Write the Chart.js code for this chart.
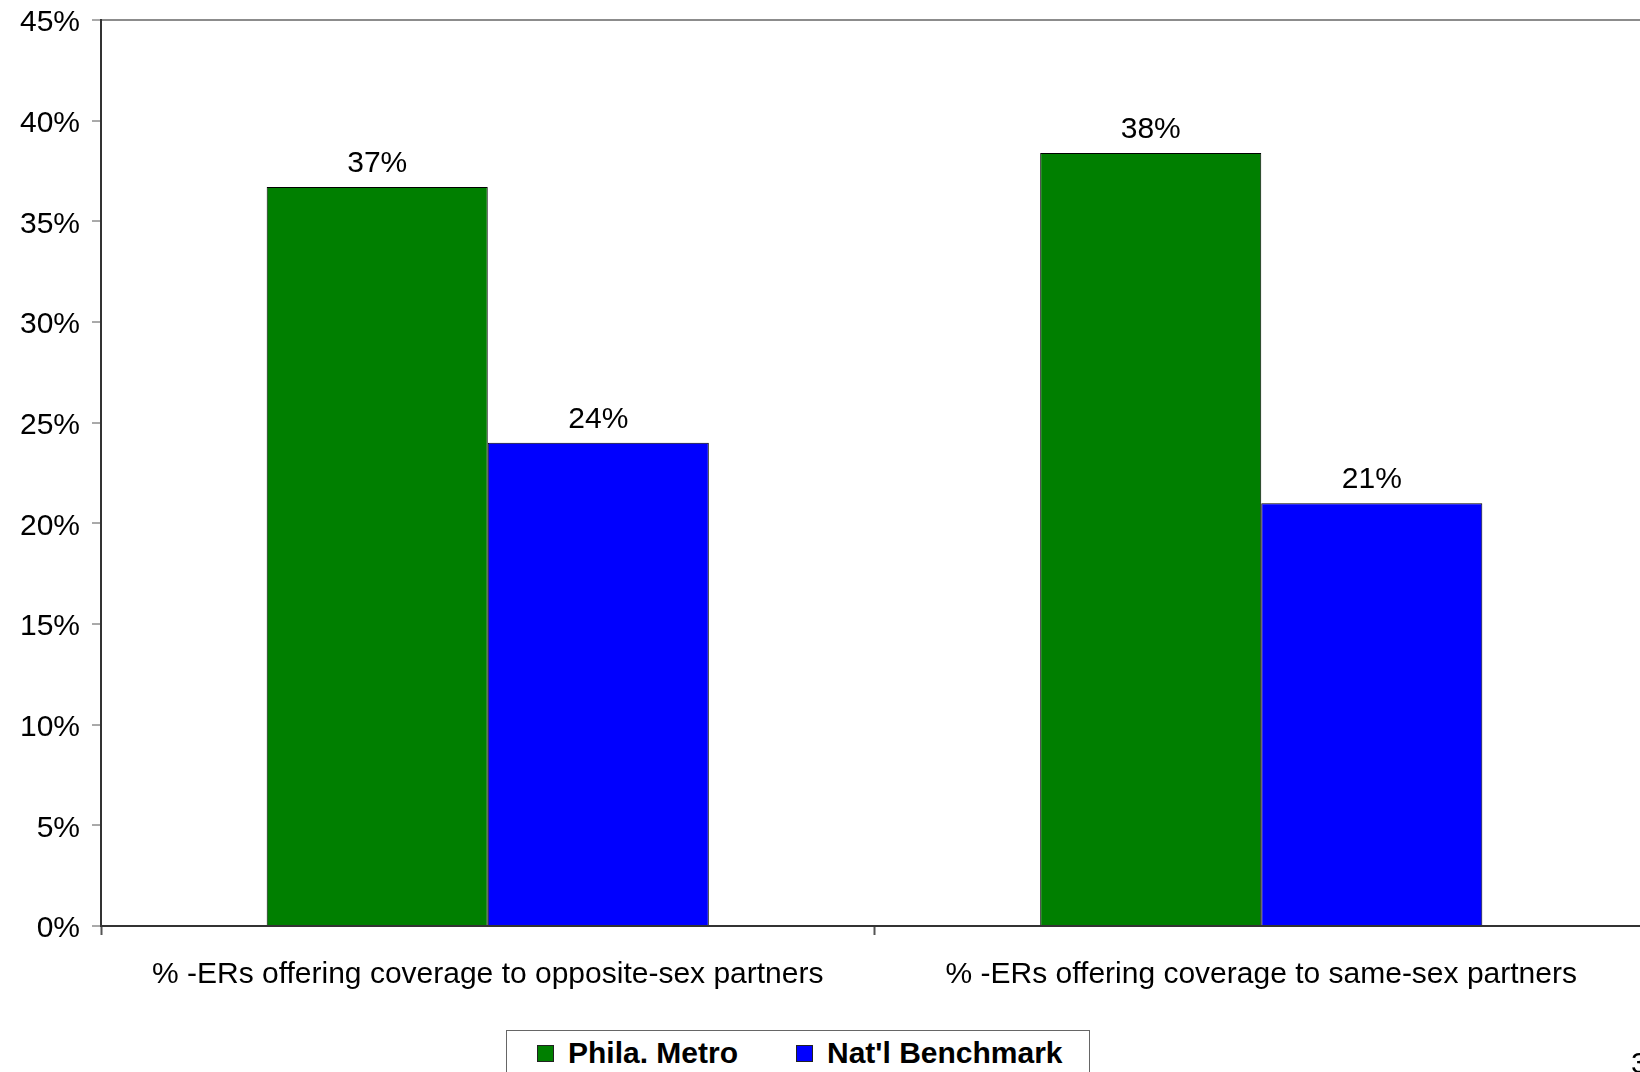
<!DOCTYPE html>
<html>
<head>
<meta charset="utf-8">
<script src="https://cdn.jsdelivr.net/npm/chart.js@4.4.1/dist/chart.umd.min.js"></script>
<style>
  html, body { margin: 0; padding: 0; background: #fff; overflow: hidden; }
  #wrap { position: relative; width: 1650px; height: 1072px; }
  #legend {
    position: absolute; left: 506px; top: 1030px; width: 584px; height: 60px;
    border: 1px solid #666; box-sizing: border-box; background: #fff;
    font-family: "Liberation Sans", Arial, sans-serif; font-weight: bold; font-size: 30px;
  }
  .item { position: absolute; top: 5px; height: 34px; line-height: 34px;
          display: flex; align-items: center; white-space: nowrap; }
  .sw { width: 15px; height: 15px; border: 1px solid #222; margin-right: 14px; }
  #pageno {
    position: absolute; left: 1631px; top: 1046px; line-height: 34px;
    font-family: "Liberation Sans", Arial, sans-serif; font-size: 30px; color: #000;
  }
</style>
</head>
<body>
<div id="wrap">
  <canvas id="c"></canvas>
  <div id="legend"></div>
  <div id="pageno">3</div>
</div>
<script>
// Categories and series values (percent)
const categories = [
  "% -ERs offering coverage to opposite-sex partners",
  "% -ERs offering coverage to same-sex partners"
];
const seriesNames = ["Phila. Metro", "Nat'l Benchmark"];
const philaMetro = [36.7, 38.4];
const natlBenchmark = [24.0, 21.0];
const seriesColors = ["#007f00", "#0000ff"];
const yTicks = [0, 5, 10, 15, 20, 25, 30, 35, 40, 45];

const FONT = '"Liberation Sans", Arial, sans-serif';

// Value labels above each bar
const valueLabels = {
  id: 'valueLabels',
  afterDatasetsDraw(chart) {
    const ctx = chart.ctx;
    ctx.save();
    ctx.font = '30px ' + FONT;
    ctx.fillStyle = '#000';
    ctx.textAlign = 'center';
    ctx.textBaseline = 'alphabetic';
    chart.data.datasets.forEach((ds, i) => {
      chart.getDatasetMeta(i).data.forEach((bar, j) => {
        ctx.fillText(Math.round(ds.data[j]) + '%', bar.x, bar.y - 15);
      });
    });
    ctx.restore();
  }
};

const chart = new Chart(document.getElementById('c'), {
  type: 'bar',
  data: {
    labels: categories,
    datasets: [
      { label: seriesNames[0], data: philaMetro, backgroundColor: seriesColors[0],
        borderColor: '#000', borderWidth: 1, borderSkipped: 'bottom' },
      { label: seriesNames[1], data: natlBenchmark, backgroundColor: seriesColors[1],
        borderColor: '#000', borderWidth: 1, borderSkipped: 'bottom' }
    ]
  },
  options: {
    responsive: true,
    maintainAspectRatio: false,
    animation: false,
    layout: { padding: { top: 20, right: 2, left: 0, bottom: 0 } },
    datasets: { bar: { categoryPercentage: 0.5716, barPercentage: 1.0 } },
    plugins: { legend: { display: false }, tooltip: { enabled: false } },
    scales: {
      x: {
        grid: { display: true, drawOnChartArea: false, offset: true,
                tickLength: 9, tickColor: '#555', tickWidth: 2 },
        border: { color: '#333', width: 2 },
        ticks: { color: '#000', font: { family: FONT, size: 30 }, padding: 22, maxRotation: 0 },
        afterFit(scale) { scale.height = 146; scale.paddingLeft = 0; scale.paddingRight = 0; }
      },
      y: {
        min: 0, max: 45,
        afterBuildTicks(scale) { scale.ticks = yTicks.map(v => ({ value: v })); },
        grid: {
          color: c => (c.tick && c.tick.value === 45) ? '#8c8c8c' : 'rgba(0,0,0,0)',
          lineWidth: 2, tickLength: 9, tickColor: '#555', tickWidth: 1
        },
        border: { color: '#333', width: 2 },
        ticks: { color: '#000', font: { family: FONT, size: 30 }, padding: 12, labelOffset: 3,
                 callback: v => v + '%' },
        afterFit(scale) { scale.width = 101; scale.paddingTop = 0; scale.paddingBottom = 0; }
      }
    }
  },
  plugins: [valueLabels]
});

// Legend built from the dataset definitions
const legend = document.getElementById('legend');
const lefts = [30, 289];
chart.data.datasets.forEach((ds, i) => {
  const item = document.createElement('div');
  item.className = 'item';
  item.style.left = lefts[i] + 'px';
  const sw = document.createElement('span');
  sw.className = 'sw';
  sw.style.background = ds.backgroundColor;
  const t = document.createElement('span');
  t.textContent = ds.label;
  item.appendChild(sw);
  item.appendChild(t);
  legend.appendChild(item);
});
</script>
</body>
</html>
